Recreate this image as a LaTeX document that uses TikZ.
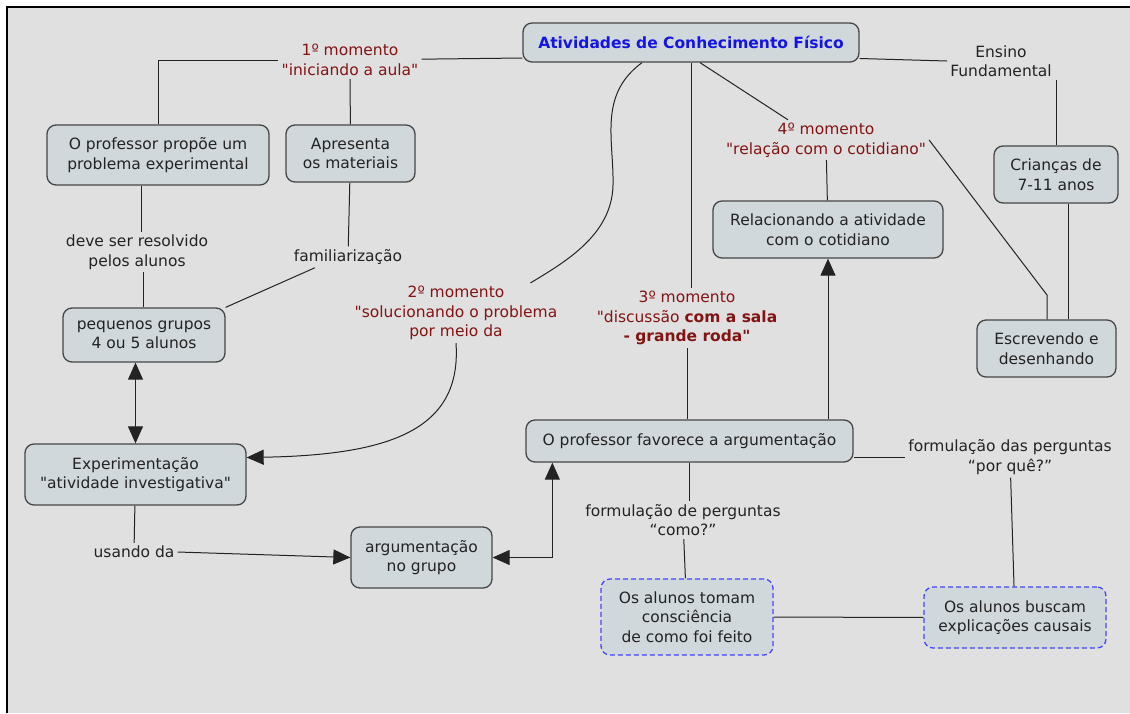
\documentclass[tikz,border=0pt]{standalone}
\usepackage{fontspec}
\setmainfont{DejaVu Sans}[Ligatures=TeXOff]
\usetikzlibrary{positioning,arrows.meta}
\definecolor{bgcol}{RGB}{224,224,224}
\definecolor{boxfill}{RGB}{208,216,219}
\definecolor{boxline}{RGB}{70,70,70}
\definecolor{momred}{RGB}{130,20,20}
\definecolor{titleblue}{RGB}{20,20,230}
\definecolor{dashblue}{RGB}{70,70,250}
\definecolor{txt}{RGB}{35,35,35}
\tikzstyle{cbox} = [rectangle, rounded corners=9pt, draw=boxline, line width=1.3pt, fill=boxfill, text=txt, align=center, inner sep=0pt]
\tikzstyle{dashbox} = [cbox, draw=dashblue, dash pattern=on 5pt off 3pt]
\tikzstyle{linklabel} = [text=txt, align=center, inner sep=3pt]
\tikzstyle{moment} = [linklabel, text=momred]
\tikzstyle{conn} = [draw=txt, line width=1pt]
\tikzstyle{arrow} = [conn, -{Triangle[length=17pt,width=15pt]}]
\tikzstyle{dblarrow} = [conn, {Triangle[length=17pt,width=15pt]}-{Triangle[length=17pt,width=15pt]}]

\begin{document}
\begin{tikzpicture}[x=1pt,y=-1pt,font=\fontsize{15.5}{19.5}\selectfont]
\useasboundingbox (0,0) rectangle (1130,713);
\fill[white] (0,0) rectangle (1130,713);
\fill[bgcol] (7,7) rectangle (1130,713);
\draw[line width=2.5pt] (7,713) -- (7,7) -- (1130,7);

 \node (title) [cbox, minimum width=336pt, minimum height=39pt, text=titleblue] at (691,42.5) {\bfseries Atividades de Conhecimento Físico};
 \node (m1) [moment] at (350,60) {1º momento\\"iniciando a aula"};
 \node (prof) [cbox, minimum width=222pt, minimum height=60pt] at (158,155) {O professor propõe um\\problema experimental};
 \node (apres) [cbox, minimum width=129pt, minimum height=57pt] at (350.5,153.5) {Apresenta\\os materiais};
 \node (deve) [linklabel] at (137,252) {deve ser resolvido\\pelos alunos};
 \node (famil) [linklabel] at (348,257) {familiarização};
 \node (grupos) [cbox, minimum width=162pt, minimum height=54pt] at (144,335) {pequenos grupos\\4 ou 5 alunos};
 \node (exp) [cbox, minimum width=221pt, minimum height=61pt] at (135.5,474.5) {Experimentação\\"atividade investigativa"};
 \node (usando) [linklabel] at (134,552) {usando da};
 \node (arg) [cbox, minimum width=141pt, minimum height=61pt] at (421.5,557.5) {argumentação\\no grupo};
 \node (m2) [moment] at (456,313) {2º momento\\"solucionando o problema\\por meio da};
 \node (m3) [moment] at (687,318) {3º momento\\"discussão \textbf{com a sala}\\\textbf{- grande roda"}};
 \node (m4) [moment] at (826,140) {4º momento\\"relação com o cotidiano"};
 \node (relac) [cbox, minimum width=230pt, minimum height=57pt] at (828,229.5) {Relacionando a atividade\\com o cotidiano};
 \node (ensino) [linklabel] at (1001,61) {Ensino\\Fundamental};
 \node (criancas) [cbox, minimum width=124pt, minimum height=57pt] at (1056,174.5) {Crianças de\\7-11 anos};
 \node (escr) [cbox, minimum width=139pt, minimum height=57pt] at (1046.5,348.5) {Escrevendo e\\desenhando};
 \node (favor) [cbox, minimum width=327pt, minimum height=42pt] at (689.5,441) {O professor favorece a argumentação};
 \node (como) [linklabel] at (683,520) {formulação de perguntas\\“como?”};
 \node (porque) [linklabel] at (1010,457) {formulação das perguntas\\“por quê?”};
 \node (tomam) [dashbox, minimum width=172pt, minimum height=76pt] at (687,617) {Os alunos tomam\\consciência\\de como foi feito};
 \node (buscam) [dashbox, minimum width=182pt, minimum height=61pt] at (1015,617.5) {Os alunos buscam\\explicações causais};
 \coordinate (bend) at (1047,295);

\draw [conn] ([yshift=-15.5pt]title.west) -- (m1);
\draw [conn] (m1) -| (prof);
\draw [conn] (m1) -- (apres);
\draw [conn] ([xshift=-17pt]prof.south) -- ([xshift=4pt]deve.north);
\draw [conn] ([xshift=6pt]deve.south) -- ([xshift=-1pt]grupos.north);
\draw [conn] (apres) -- (famil);
\draw [conn] ([xshift=-33pt]famil.south) -- (grupos.north east);
\draw [dblarrow] (exp.north) -- (exp.north |- grupos.south);
\draw [conn] ([xshift=-49pt]title.south) .. controls (598,95) and (614,140) .. (613,185) .. controls (612,235) and (565,262) .. ([xshift=-30pt]m2.north east);
\draw [arrow] (m2.south) .. controls (462,430) and (390,455) .. ([yshift=17pt]exp.east);
\draw [conn] (title.south) -- (title.south |- m3.north);
\draw [conn] (m3.south) -- (m3.south |- favor.north);
\draw [conn] ([xshift=9pt]title.south) -- ([xshift=-38pt]m4.north);
\draw [conn] (m4) -- (relac);
\draw [conn] (m4.east) -- (bend) -- (bend |- escr.north);
\draw [conn] ([yshift=-16pt]title.east) -- (ensino.west);
\draw [conn] (criancas.north |- ensino.south) -- (criancas.north);
\draw [conn] ([xshift=12pt]criancas.south) -- ([xshift=12pt]criancas.south |- escr.north);
\draw [arrow] (favor.north -| relac.south) -- (relac.south);
\draw [dblarrow] (arg.east) -| ([xshift=27pt]favor.south west);
\draw [conn] (exp) -- (usando);
\draw [arrow] (usando.east) -- (arg.west);
\draw [conn] (favor.south) -- (favor.south |- como.north);
\draw [conn] (como) -- (tomam);
\draw [conn] ([yshift=-16pt]favor.east) -- (porque.west);
\draw [conn] (porque) -- (buscam);
\draw [conn] (tomam) -- (buscam);
\end{tikzpicture}
\end{document}
